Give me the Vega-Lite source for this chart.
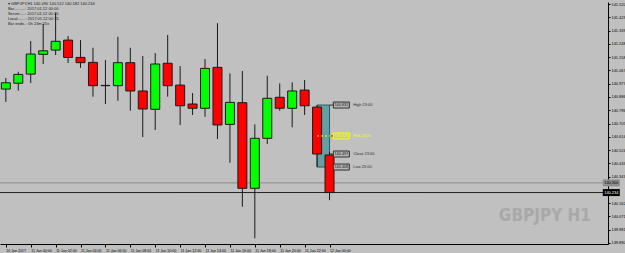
{
  "$schema": "https://vega.github.io/schema/vega-lite/v6.json",
  "width": 608,
  "height": 242,
  "autosize": {"type": "none"},
  "padding": {"left": 0, "top": 2, "right": 17, "bottom": 9},
  "background": "#c0c0c0",
  "config": {
    "view": {"stroke": null, "fill": "#c0c0c0"},
    "font": "Liberation Sans",
    "axis": {"domainColor": "#000000", "tickColor": "#000000", "labelColor": "#000000", "grid": false, "labelFont": "Liberation Sans", "labelOverlap": false, "labelFlush": false, "labelSeparation": 0},
    "axisY": {"labelOverlap": false, "labelBound": false},
    "axisQuantitative": {"labelOverlap": false}
  },
  "datasets": {
    "candles": [
      {"time": "2017-01-10T22:00:00Z", "open": 140.940, "high": 141.015, "low": 140.852, "close": 140.983},
      {"time": "2017-01-10T23:00:00Z", "open": 140.980, "high": 141.058, "low": 140.929, "close": 141.040},
      {"time": "2017-01-11T00:00:00Z", "open": 141.042, "high": 141.268, "low": 140.981, "close": 141.179},
      {"time": "2017-01-11T01:00:00Z", "open": 141.177, "high": 141.384, "low": 141.111, "close": 141.201},
      {"time": "2017-01-11T02:00:00Z", "open": 141.206, "high": 141.459, "low": 141.172, "close": 141.266},
      {"time": "2017-01-11T03:00:00Z", "open": 141.274, "high": 141.302, "low": 141.118, "close": 141.156},
      {"time": "2017-01-11T04:00:00Z", "open": 141.156, "high": 141.274, "low": 141.085, "close": 141.120},
      {"time": "2017-01-11T05:00:00Z", "open": 141.122, "high": 141.222, "low": 140.888, "close": 140.963},
      {"time": "2017-01-11T06:00:00Z", "open": 140.963, "high": 141.138, "low": 140.838, "close": 140.965},
      {"time": "2017-01-11T07:00:00Z", "open": 140.963, "high": 141.297, "low": 140.860, "close": 141.120},
      {"time": "2017-01-11T08:00:00Z", "open": 141.120, "high": 141.222, "low": 140.792, "close": 140.927},
      {"time": "2017-01-11T09:00:00Z", "open": 140.927, "high": 141.165, "low": 140.613, "close": 140.804},
      {"time": "2017-01-11T10:00:00Z", "open": 140.802, "high": 141.186, "low": 140.661, "close": 141.111},
      {"time": "2017-01-11T11:00:00Z", "open": 141.116, "high": 141.309, "low": 140.888, "close": 140.963},
      {"time": "2017-01-11T12:00:00Z", "open": 140.967, "high": 141.097, "low": 140.695, "close": 140.826},
      {"time": "2017-01-11T13:00:00Z", "open": 140.838, "high": 140.913, "low": 140.763, "close": 140.809},
      {"time": "2017-01-11T14:00:00Z", "open": 140.809, "high": 141.145, "low": 140.751, "close": 141.081},
      {"time": "2017-01-11T15:00:00Z", "open": 141.088, "high": 141.390, "low": 140.599, "close": 140.695},
      {"time": "2017-01-11T16:00:00Z", "open": 140.699, "high": 141.047, "low": 140.437, "close": 140.849},
      {"time": "2017-01-11T17:00:00Z", "open": 140.847, "high": 141.063, "low": 140.137, "close": 140.263},
      {"time": "2017-01-11T18:00:00Z", "open": 140.263, "high": 140.699, "low": 139.922, "close": 140.604},
      {"time": "2017-01-11T19:00:00Z", "open": 140.604, "high": 141.031, "low": 140.565, "close": 140.877},
      {"time": "2017-01-11T20:00:00Z", "open": 140.884, "high": 140.979, "low": 140.792, "close": 140.809},
      {"time": "2017-01-11T21:00:00Z", "open": 140.809, "high": 140.986, "low": 140.679, "close": 140.927},
      {"time": "2017-01-11T22:00:00Z", "open": 140.933, "high": 141.002, "low": 140.763, "close": 140.826},
      {"time": "2017-01-11T23:00:00Z", "open": 140.817, "high": 140.831, "low": 140.408, "close": 140.497},
      {"time": "2017-01-12T00:00:00Z", "open": 140.490, "high": 140.512, "low": 140.182, "close": 140.234}
    ],
    "range": [
      {"from": "2017-01-11T23:00:00Z", "to": "2017-01-12T00:00:00Z", "high": 140.831, "low": 140.408}
    ],
    "levels": [
      {"label": "High 23:00", "price": 140.831, "kind": "high"},
      {"label": "Mid 23:00", "price": 140.620, "kind": "mid"},
      {"label": "Close 23:00", "price": 140.497, "kind": "close"},
      {"label": "Low 23:00", "price": 140.408, "kind": "low"}
    ],
    "pricelines": [
      {"price": 140.300, "kind": "ask"},
      {"price": 140.234, "kind": "bid"}
    ],
    "notes": [
      {"watermark": "GBPJPY H1", "header": "▾ GBPJPY,H1  140.490 140.512 140.182 140.234\nBar..........: 2017.01.12 00:00\nServer.....: 2017.01.12 00:35\nLocal.......: 2017.01.12 00:35\nBar ends..: 0h 24m 55s"}
    ]
  },
  "layer": [
    {
      "data": {"name": "pricelines"},
      "mark": {"type": "rule", "strokeWidth": 1},
      "encoding": {
        "y": {"field": "price", "type": "quantitative"},
        "color": {"condition": {"test": "datum.kind == 'bid'", "value": "#202020"}, "value": "#8a8a8a"}
      }
    },
    {
      "data": {"name": "range"},
      "mark": {"type": "rect", "fill": "#62a0a2", "stroke": "#2e5a5c", "strokeWidth": 1},
      "encoding": {
        "x": {"field": "from", "type": "temporal"},
        "x2": {"field": "to"},
        "y": {"field": "high", "type": "quantitative"},
        "y2": {"field": "low"}
      }
    },
    {
      "data": {"name": "levels"},
      "mark": {"type": "rule", "color": "#333333", "strokeWidth": 1},
      "encoding": {
        "x": {"datum": {"year": 2017, "month": 1, "date": 12, "hours": 0, "minutes": 0, "utc": true}, "type": "temporal"},
        "x2": {"datum": {"year": 2017, "month": 1, "date": 12, "hours": 0, "minutes": 19, "utc": true}},
        "y": {"field": "price", "type": "quantitative"}
      }
    },
    {
      "data": {"name": "candles"},
      "mark": {"type": "rule", "color": "#1a1a1a", "strokeWidth": 1},
      "encoding": {
        "x": {
          "field": "time",
          "type": "temporal",
          "scale": {
            "type": "utc",
            "domain": [
              {"year": 2017, "month": 1, "date": 10, "hours": 21, "minutes": 56, "utc": true},
              {"year": 2017, "month": 1, "date": 12, "hours": 21, "minutes": 58, "utc": true}
            ]
          },
          "axis": {
            "title": null,
            "tickCount": 40,
            "values": [
              {"year": 2017, "month": 1, "date": 10, "hours": 22, "utc": true},
              {"year": 2017, "month": 1, "date": 11, "hours": 0, "utc": true},
              {"year": 2017, "month": 1, "date": 11, "hours": 2, "utc": true},
              {"year": 2017, "month": 1, "date": 11, "hours": 4, "utc": true},
              {"year": 2017, "month": 1, "date": 11, "hours": 6, "utc": true},
              {"year": 2017, "month": 1, "date": 11, "hours": 8, "utc": true},
              {"year": 2017, "month": 1, "date": 11, "hours": 10, "utc": true},
              {"year": 2017, "month": 1, "date": 11, "hours": 12, "utc": true},
              {"year": 2017, "month": 1, "date": 11, "hours": 14, "utc": true},
              {"year": 2017, "month": 1, "date": 11, "hours": 16, "utc": true},
              {"year": 2017, "month": 1, "date": 11, "hours": 18, "utc": true},
              {"year": 2017, "month": 1, "date": 11, "hours": 20, "utc": true},
              {"year": 2017, "month": 1, "date": 11, "hours": 22, "utc": true},
              {"year": 2017, "month": 1, "date": 12, "hours": 0, "utc": true}
            ],
            "labelExpr": "datum.index == 0 ? '10 Jan 2017' : utcFormat(datum.value, '%d %b %H:%M')",
            "labelAlign": "left",
            "labelBaseline": "top",
            "labelFontSize": 3.6,
            "labelPadding": 1,
            "labelDx": 1,
            "labelOverlap": false,
            "tickSize": 3,
            "domainWidth": 1
          }
        },
        "y": {
          "field": "low",
          "type": "quantitative",
          "scale": {"domain": [139.883, 141.534], "zero": false, "nice": false},
          "axis": {
            "title": null,
            "orient": "right",
            "tickCount": 40,
            "values": [141.520, 141.429, 141.339, 141.248, 141.158, 141.067, 140.977, 140.886, 140.796, 140.705, 140.614, 140.524, 140.433, 140.343, 140.162, 140.071, 139.981, 139.890],
            "format": ".3f",
            "labelFontSize": 3.9,
            "labelPadding": 1,
            "labelOverlap": false,
            "labelBound": false,
            "labelBaseline": "middle",
            "tickSize": 2,
            "domainWidth": 1
          }
        },
        "y2": {"field": "high"}
      }
    },
    {
      "data": {"name": "candles"},
      "mark": {"type": "bar", "size": 9, "stroke": "#1a1a1a", "strokeWidth": 1},
      "encoding": {
        "x": {"field": "time", "type": "temporal"},
        "y": {"field": "open", "type": "quantitative"},
        "y2": {"field": "close"},
        "fill": {"condition": {"test": "datum.close >= datum.open", "value": "#00ff00"}, "value": "#ff0000"}
      }
    },
    {
      "data": {"name": "levels"},
      "transform": [{"filter": "datum.kind == 'mid'"}],
      "mark": {"type": "rule", "color": "#ffff00", "strokeWidth": 1, "strokeDash": [2, 2]},
      "encoding": {
        "x": {"datum": {"year": 2017, "month": 1, "date": 11, "hours": 23, "minutes": 0, "utc": true}, "type": "temporal"},
        "x2": {"datum": {"year": 2017, "month": 1, "date": 12, "hours": 0, "minutes": 19, "utc": true}},
        "y": {"field": "price", "type": "quantitative"}
      }
    },
    {
      "data": {"name": "levels"},
      "mark": {"type": "tick", "orient": "horizontal", "size": 16, "thickness": 6, "strokeWidth": 1, "opacity": 1},
      "encoding": {
        "x": {"datum": {"year": 2017, "month": 1, "date": 12, "hours": 0, "minutes": 57, "utc": true}, "type": "temporal"},
        "y": {"field": "price", "type": "quantitative"},
        "fill": {"condition": {"test": "datum.kind == 'mid'", "value": "#c8c8a0"}, "value": "#b4b4b4"},
        "stroke": {"condition": {"test": "datum.kind == 'mid'", "value": "#ffff00"}, "value": "#303030"}
      }
    },
    {
      "data": {"name": "levels"},
      "mark": {"type": "text", "fontSize": 3.8, "align": "center", "baseline": "middle"},
      "encoding": {
        "x": {"datum": {"year": 2017, "month": 1, "date": 12, "hours": 0, "minutes": 57, "utc": true}, "type": "temporal"},
        "y": {"field": "price", "type": "quantitative"},
        "text": {"field": "price", "type": "quantitative", "format": ".3f"},
        "color": {"condition": {"test": "datum.kind == 'mid'", "value": "#ffff00"}, "value": "#202020"}
      }
    },
    {
      "data": {"name": "levels"},
      "mark": {"type": "text", "fontSize": 4, "align": "left", "baseline": "middle"},
      "encoding": {
        "x": {"datum": {"year": 2017, "month": 1, "date": 12, "hours": 1, "minutes": 54, "utc": true}, "type": "temporal"},
        "y": {"field": "price", "type": "quantitative"},
        "text": {"field": "label", "type": "nominal"},
        "color": {"condition": {"test": "datum.kind == 'mid'", "value": "#ffff00"}, "value": "#303030"}
      }
    },
    {
      "data": {"name": "pricelines"},
      "mark": {"type": "tick", "orient": "horizontal", "size": 17, "thickness": 7, "opacity": 1},
      "encoding": {
        "x": {"datum": {"year": 2017, "month": 1, "date": 12, "hours": 22, "minutes": 38, "utc": true}, "type": "temporal"},
        "y": {"field": "price", "type": "quantitative"},
        "color": {"condition": {"test": "datum.kind == 'bid'", "value": "#000000"}, "value": "#8f8f8f"}
      }
    },
    {
      "data": {"name": "pricelines"},
      "mark": {"type": "text", "fontSize": 3.9, "align": "center", "baseline": "middle"},
      "encoding": {
        "x": {"datum": {"year": 2017, "month": 1, "date": 12, "hours": 22, "minutes": 38, "utc": true}, "type": "temporal"},
        "y": {"field": "price", "type": "quantitative"},
        "text": {"field": "price", "type": "quantitative", "format": ".3f"},
        "color": {"condition": {"test": "datum.kind == 'bid'", "value": "#ffffff"}, "value": "#000000"}
      }
    },
    {
      "data": {"name": "notes"},
      "mark": {"type": "text", "fontSize": 17, "fontWeight": "bold", "font": "DejaVu Sans Condensed, Liberation Sans, sans-serif", "color": "#a8a8a8", "align": "center", "baseline": "middle"},
      "encoding": {
        "x": {"datum": {"year": 2017, "month": 1, "date": 12, "hours": 17, "minutes": 18, "utc": true}, "type": "temporal"},
        "y": {"datum": 140.074, "type": "quantitative"},
        "text": {"field": "watermark", "type": "nominal"}
      }
    },
    {
      "data": {"name": "notes"},
      "mark": {"type": "text", "fontSize": 4, "color": "#1a1a1a", "align": "left", "baseline": "top", "lineBreak": "\n", "lineHeight": 5.1},
      "encoding": {
        "x": {"datum": {"year": 2017, "month": 1, "date": 10, "hours": 22, "minutes": 10, "utc": true}, "type": "temporal"},
        "y": {"datum": 141.536, "type": "quantitative"},
        "text": {"field": "header", "type": "nominal"}
      }
    }
  ]
}
